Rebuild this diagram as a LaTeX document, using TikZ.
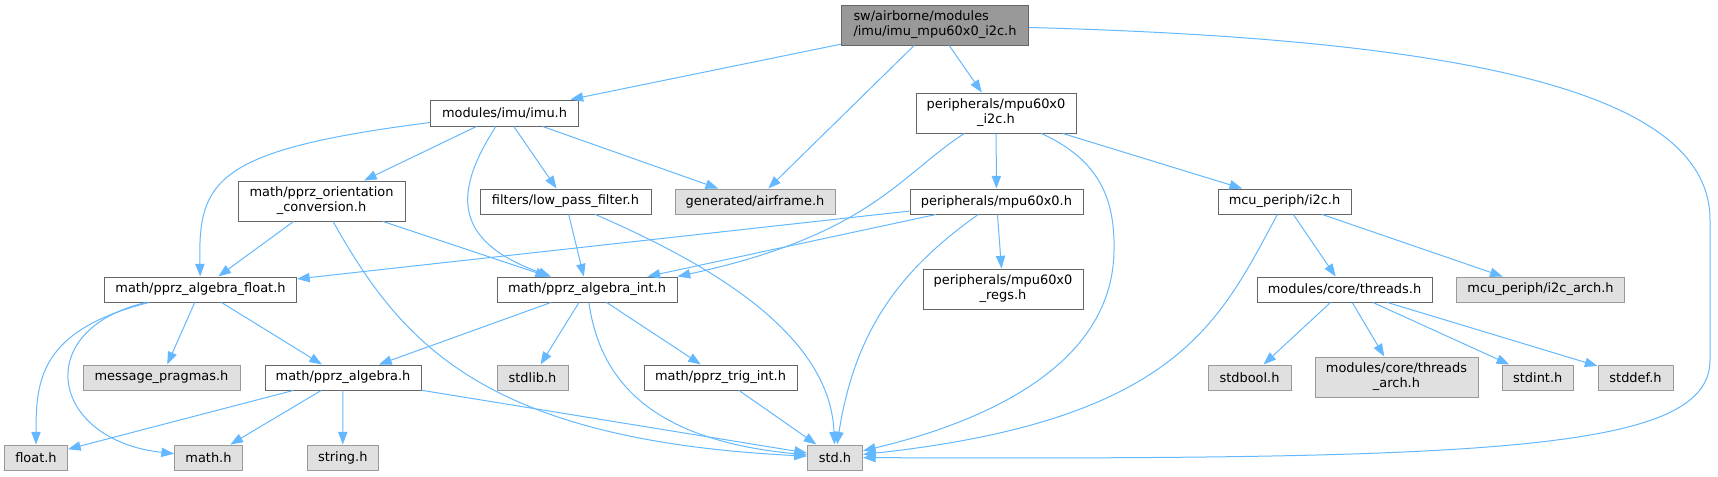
\documentclass[tikz,border=0pt]{standalone}
\usepackage{fontspec}
\setmainfont{DejaVu Sans}
\usepackage{tikz}
\usetikzlibrary{arrows.meta}
\definecolor{edgeblue}{HTML}{63B8FF}
\definecolor{boxline}{HTML}{666666}
\definecolor{extline}{HTML}{999999}
\definecolor{extfill}{HTML}{E0E0E0}

\begin{document}
\begin{tikzpicture}[x=0.75pt,y=-0.75pt,
   every node/.style={font=\fontsize{9.7}{11.25}\selectfont},
   file/.style={draw=boxline,line width=0.75pt,fill=white,inner sep=0pt,align=center},
   ext/.style={file,draw=extline,fill=extfill},
   root/.style={file,fill=extline,align=left},
   sz/.style 2 args={minimum width=#1*0.75pt,minimum height=#2*0.75pt},
   ln/.style={draw=edgeblue,line width=0.75pt,-{Triangle[length=9.5pt,width=7pt]}}
]
\useasboundingbox (0,0) rectangle (1718,476);

% Root header
\node[root,sz={187}{40}] (root) at (935,25) {sw/airborne/modules\\/imu/imu\_mpu60x0\_i2c.h};

% First level
\node[file,sz={148}{26}] (imu) at (504.5,113) {modules/imu/imu.h};
\node[file,sz={160}{40}] (pmpui2c) at (996,113) {peripherals/mpu60x0\\\_i2c.h};

% Second level
\node[file,sz={167}{40}] (orient) at (321.5,201) {math/pprz\_orientation\\\_conversion.h};
\node[file,sz={171}{25}] (lowpass) at (565.5,201.5) {filters/low\_pass\_filter.h};
\node[ext,sz={160}{25}] (airframe) at (755,201.5) {generated/airframe.h};
\node[file,sz={173}{25}] (pmpu) at (996.5,201.5) {peripherals/mpu60x0.h};
\node[file,sz={133}{25}] (i2c) at (1284.5,201.5) {mcu\_periph/i2c.h};

% Third level
\node[file,sz={192}{25}] (algfloat) at (200.5,289.5) {math/pprz\_algebra\_float.h};
\node[file,sz={180}{25}] (algint) at (587,289.5) {math/pprz\_algebra\_int.h};
\node[file,sz={160}{40}] (regs) at (1003,289) {peripherals/mpu60x0\\\_regs.h};
\node[file,sz={175}{25}] (threads) at (1344.5,289.5) {modules/core/threads.h};
\node[ext,sz={168}{25}] (i2carch) at (1540.5,289.5) {mcu\_periph/i2c\_arch.h};

% Fourth level
\node[ext,sz={157}{25}] (pragmas) at (161.5,377.5) {message\_pragmas.h};
\node[file,sz={156}{25}] (alg) at (343,377.5) {math/pprz\_algebra.h};
\node[ext,sz={71}{25}] (stdlib) at (532.5,377.5) {stdlib.h};
\node[file,sz={153}{25}] (trig) at (720.5,377.5) {math/pprz\_trig\_int.h};
\node[ext,sz={83}{25}] (stdbool) at (1249.5,377.5) {stdbool.h};
\node[ext,sz={163}{40}] (thrarch) at (1396.5,377) {modules/core/threads\\\_arch.h};
\node[ext,sz={70.5}{25}] (stdint) at (1537.75,377.5) {stdint.h};
\node[ext,sz={75}{25}] (stddef) at (1635.5,377.5) {stddef.h};

% Bottom level
\node[ext,sz={63}{25}] (floath) at (36,457.5) {float.h};
\node[ext,sz={68}{25}] (mathh) at (208.5,457.5) {math.h};
\node[ext,sz={71.5}{25}] (stringh) at (342.75,457.5) {string.h};
\node[ext,sz={55}{25}] (stdh) at (835,457.5) {std.h};

% Root includes
\draw[ln] (root) -- (imu);
\draw[ln] (root) -- (airframe);
\draw[ln] (root) -- (pmpui2c);
\draw[ln] (root) .. controls (1500,40) and (1710,100) .. (1710,220) -- (1710,360)
   .. controls (1710,450) and (1500,460) .. (stdh);

% imu.h
\draw[ln] (imu) .. controls (215,150) and (198,180) .. (algfloat);
\draw[ln] (imu) -- (orient);
\draw[ln] (imu) .. controls (455,190) and (450,240) .. (algint);
\draw[ln] (imu) -- (lowpass);
\draw[ln] (imu) -- (airframe);

% orientation conversion
\draw[ln] (orient) -- (algfloat);
\draw[ln] (orient) -- (algint);
\draw[ln] (orient) .. controls (400,340) and (480,440) .. (stdh);

% low pass filter
\draw[ln] (lowpass) -- (algint);
\draw[ln] (lowpass) .. controls (700,260) and (830,330) .. (stdh);

% peripherals/mpu60x0_i2c.h
\draw[ln] (pmpui2c) .. controls (900,175) and (870,235) .. (algint.north east);
\draw[ln] (pmpui2c) -- (pmpu);
\draw[ln] (pmpui2c) .. controls (1100,160) and (1115,200) .. (1114,250)
   .. controls (1113,380) and (950,430) .. (stdh);
\draw[ln] (pmpui2c) -- (i2c);

% peripherals/mpu60x0.h
\draw[ln] (pmpu) -- (algfloat);
\draw[ln] (pmpu) -- (algint);
\draw[ln] (pmpu) .. controls (900,270) and (855,330) .. (stdh);
\draw[ln] (pmpu) -- (regs);

% mcu_periph/i2c.h
\draw[ln] (i2c) .. controls (1220,320) and (1180,420) .. (stdh);
\draw[ln] (i2c) -- (threads);
\draw[ln] (i2c) -- (i2carch);

% pprz_algebra_float.h
\draw[ln] (algfloat) .. controls (40,330) and (36,380) .. (floath);
\draw[ln] (algfloat) .. controls (30,330) and (50,440) .. (mathh);
\draw[ln] (algfloat) -- (pragmas);
\draw[ln] (algfloat) -- (alg);

% pprz_algebra_int.h
\draw[ln] (algint) -- (alg);
\draw[ln] (algint) -- (stdlib);
\draw[ln] (algint) .. controls (600,380) and (650,440) .. (stdh);
\draw[ln] (algint) -- (trig);

% threads.h
\draw[ln] (threads) -- (stdbool);
\draw[ln] (threads) -- (thrarch);
\draw[ln] (threads) -- (stdint);
\draw[ln] (threads) -- (stddef);

% pprz_algebra.h and trig
\draw[ln] (alg) -- (floath);
\draw[ln] (alg) -- (mathh);
\draw[ln] (alg) -- (stringh);
\draw[ln] (alg) -- (stdh);
\draw[ln] (trig) -- (stdh);

\end{tikzpicture}
\end{document}
